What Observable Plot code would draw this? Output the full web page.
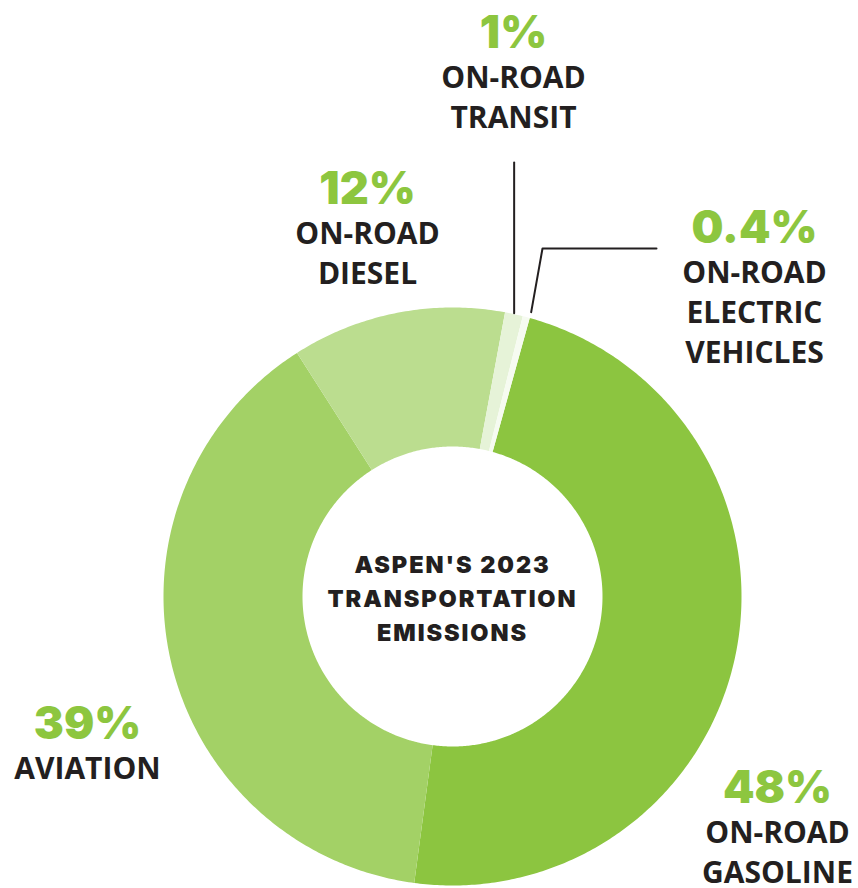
<!DOCTYPE html>
<html>
<head>
<meta charset="utf-8">
<script src="https://cdn.jsdelivr.net/npm/d3@7"></script>
<script src="https://cdn.jsdelivr.net/npm/@observablehq/plot@0.6"></script>
<style>
  html, body { margin: 0; padding: 0; background: #ffffff; }
  #chart svg { display: block; }
</style>
</head>
<body>
<div id="chart"></div>
<script>
// ---- data ----
const categories = ["On-road gasoline", "Aviation", "On-road diesel", "On-road transit", "On-road electric vehicles"];
const shares = [48, 39, 12, 1, 0.4];
const pctLabels = ["48%", "39%", "12%", "1%", "0.4%"];
const nameLines = [["ON-ROAD", "GASOLINE"], ["AVIATION"], ["ON-ROAD", "DIESEL"], ["ON-ROAD", "TRANSIT"], ["ON-ROAD", "ELECTRIC", "VEHICLES"]];
const sliceColors = ["#8cc540", "#a3d166", "#bbdd8f", "#e6f3d8", "#f6fbf1"];
const centerTitle = ["ASPEN'S 2023", "TRANSPORTATION", "EMISSIONS"];

// ---- layout (pixel-like units, origin at donut centre, y down) ----
const W = 858, H = 888;
const cx = 452, cy = 596;
const R = 289, r = 150;
const startDeg = 15.5;

// label anchors: [centre x, baseline of percentage], relative to page
const labelAnchors = [[777, 802], [87, 738], [367, 203], [513, 47], [754, 242]];
const pctSize = 45, nameSize = 30, lineGap = 40;

const pie = d3.pie().sort(null).value(d => d.value)
  .startAngle(startDeg * Math.PI / 180)
  .endAngle(startDeg * Math.PI / 180 + 2 * Math.PI);
const data = categories.map((c, i) => ({name: c, value: shares[i]}));
const arcs = pie(data);

// polygon points for each donut slice (angle measured clockwise from 12 o'clock)
const pt = (a, rad) => [rad * Math.sin(a), -rad * Math.cos(a)];
const slicePts = [];
arcs.forEach(a => {
  const n = Math.max(4, Math.ceil((a.endAngle - a.startAngle) / 0.01));
  for (let k = 0; k <= n; k++) {
    const t = a.startAngle + (a.endAngle - a.startAngle) * k / n;
    const [x, y] = pt(t, R);
    slicePts.push({name: a.data.name, x, y});
  }
  for (let k = n; k >= 0; k--) {
    const t = a.startAngle + (a.endAngle - a.startAngle) * k / n;
    const [x, y] = pt(t, r);
    slicePts.push({name: a.data.name, x, y});
  }
});

// leader lines
const mid = a => (a.startAngle + a.endAngle) / 2;
const transitArc = arcs[3], evArc = arcs[4];
const [tx, ty] = pt(mid(transitArc), R + 1);
const [ex, ey] = pt(mid(evArc) + 0.012, R + 6);
const leaders = [
  {id: "t", x: tx, y: ty}, {id: "t", x: tx, y: 162 - cy},
  {id: "e", x: ex, y: ey}, {id: "e", x: 542 - cx, y: 248 - cy}, {id: "e", x: 656 - cx, y: 248 - cy}
];

// text rows
const pctRows = [], nameRows = [];
categories.forEach((c, i) => {
  const [lx, ly] = labelAnchors[i];
  pctRows.push({x: lx - cx, y: ly - cy, text: pctLabels[i]});
  nameLines[i].forEach((t, j) => nameRows.push({x: lx - cx, y: ly - cy + lineGap * (j + 1) + 0.5, text: t}));
});
const centerRows = centerTitle.map((t, j) => ({x: 0, y: 572 - cy + 34 * j, text: t}));

const chart = Plot.plot({
  width: W, height: H,
  margin: 0,
  x: {domain: [-cx, W - cx], range: [0, W], axis: null},
  y: {domain: [-cy, H - cy], range: [0, H], axis: null},
  color: {domain: categories, range: sliceColors},
  marks: [
    Plot.line(slicePts, {x: "x", y: "y", z: "name", fill: "name", stroke: "none", curve: "linear-closed"}),
    Plot.line(leaders, {x: "x", y: "y", z: "id", stroke: "#231f20", strokeWidth: 2}),
    Plot.text(pctRows, {x: "x", y: "y", text: "text", lineAnchor: "bottom", fill: "#8dc63f",
      fontSize: pctSize, fontWeight: 900, fontFamily: "Inter"}),
    Plot.text(nameRows, {x: "x", y: "y", text: "text", lineAnchor: "bottom", fill: "#231f20",
      fontSize: nameSize, fontWeight: 700, fontFamily: "Open Sans"}),
    Plot.text(centerRows, {x: "x", y: "y", text: "text", lineAnchor: "bottom", fill: "#231f20",
      fontSize: 23.5, fontWeight: 900, fontFamily: "Inter"})
  ]
});
// widen the centre title's letter spacing (styling only)
const textGroups = d3.select(chart).selectAll("g[aria-label='text']").nodes();
d3.select(textGroups[textGroups.length - 1]).attr("letter-spacing", "1.9px");
document.getElementById("chart").appendChild(chart);
</script>
</body>
</html>
